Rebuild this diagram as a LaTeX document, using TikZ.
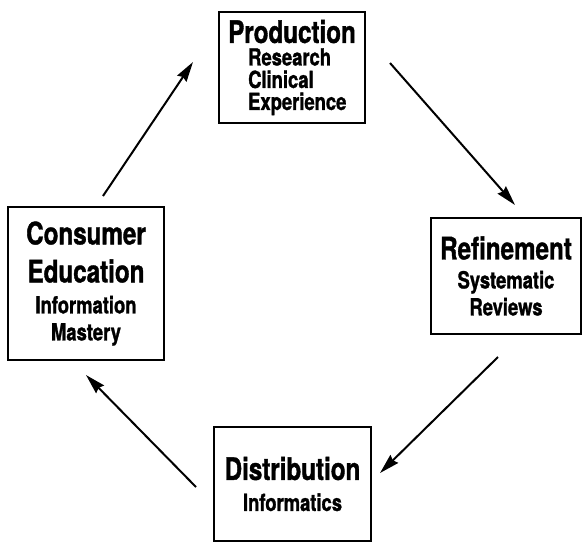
\documentclass[tikz,border=0pt]{standalone}
\usepackage{fontspec}
\newfontfamily\boxfont{TeX Gyre Heros}[FakeStretch=0.78, FakeBold=1.2]
\usetikzlibrary{calc, arrows.meta}
\newcommand{\subtxt}{\fontsize{11.8}{14}\selectfont}

\begin{document}
\begin{tikzpicture}[x = 0.5pt, y = -0.5pt,
 box/.style = {draw, line width = 1pt, inner sep = 0pt, align = center,
  font = \boxfont\bfseries\fontsize{15.5}{19}\selectfont},
 arr/.style = {-{Stealth[length = 10pt, width = 5.5pt, inset = 1pt]}, line width = 1pt}]
 \useasboundingbox (0,0) rectangle (582,542);
 \node[box, align = left, minimum width = 73pt, minimum height = 55.5pt] (pr) at (292,67.5)
 {Production\\[-7.75pt]\hspace*{10pt}{\subtxt Research}\\[-7.75pt]\hspace*{10pt}{\subtxt Clinical}\\[-8pt]\hspace*{10pt}{\subtxt Experience}};
 \node[box, minimum width = 75pt, minimum height = 58pt] (re) at (506,276)
 {Refinement\\[-4.5pt]{\subtxt Systematic}\\[-5.5pt]{\subtxt Reviews}};
 \node[box, minimum width = 78.5pt, minimum height = 57pt] (di) at (292.5,484)
 {Distribution\\[-3.5pt]{\subtxt Informatics}};
 \node[box, minimum width = 78pt, minimum height = 76.5pt] (ce) at (86,283.5)
 {Consumer\\Education\\[-3.5pt]{\subtxt Information}\\[-5.5pt]{\subtxt Mastery}};
 % 矢印（箱から少し離す）
 \draw[arr] ($(ce.north)+(17,-10)$) -- ($(pr.west)+(-25,-5.5)$);
 \draw[arr] ($(pr.east)+(24,-4.5)$) -- ($(re.north)+(9,-12)$);
 \draw[arr] ($(re.south)+(-8,22)$) -- ($(di.east)+(8,-11)$);
 \draw[arr] ($(di.west)+(-17,3)$) -- ($(ce.south)+(0,14)$);
\end{tikzpicture}
\end{document}
